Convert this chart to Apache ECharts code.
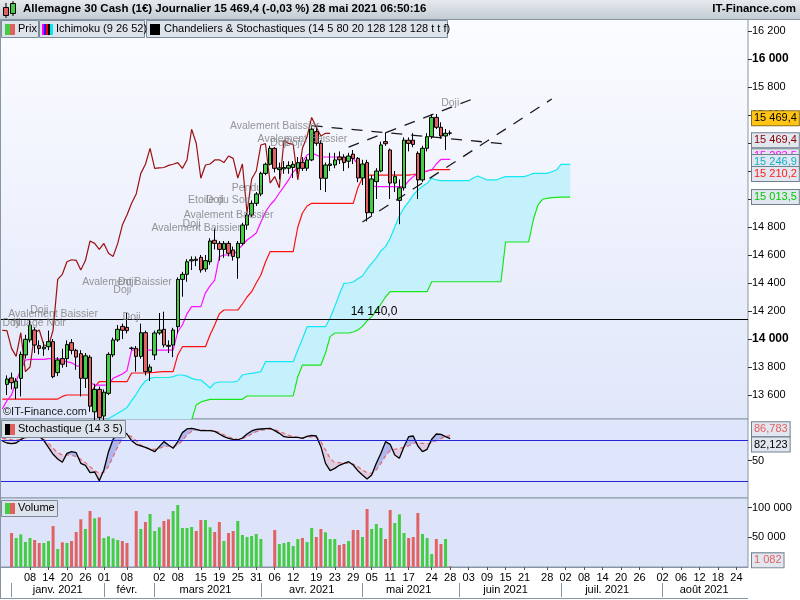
<!DOCTYPE html>
<html>
<head>
<meta charset="utf-8">
<script src="https://cdn.jsdelivr.net/npm/echarts@6.0.0/dist/echarts.min.js"></script>
<style>
html,body{margin:0;padding:0;background:#ffffff;}
#chart{width:800px;height:600px;}
</style>
</head>
<body>
<div id="chart"></div>
<script>
// ================= DATA =================
const slotCount = 162; // trading-day slots: 0 .. 161
const dayTickSlots  = [6,10,14,18,22,27,34,38,43,47,51,55,59,63,68,72,76,80,84,88,93,97,101,105,109,113,118,122,126,130,134,138,143,147,151,155,159];
const dayTickLabels = ['08','14','20','26','01','08','02','08','15','19','25','31','06','12','19','23','29','05','11','17','24','28','03','09','15','21','28','02','08','14','20','26','02','06','12','18','24'];
const monthSepSlots   = [2,22,33,56,78,99,121,143];
const monthLabelSlots = [12,27,44,67,88,109,131,152];
const monthLabels     = ['janv. 2021','févr.','mars 2021','avr. 2021','mai 2021','juin 2021','juil. 2021','août 2021'];
const priceTicks = [13600,13800,14000,14200,14400,14600,14800,15000,15200,15400,15600,15800,16000,16200];
const stochTicks = [50];
const volumeTicks = [50000,100000];

const candleOpen = [null,13676,13722,13650,13719,13886,13993,14064,13952,13930,
13945,13981,13760,13860,13860,13974,13919,13895,13719,13870,
13480,13640,13450,13612,13886,13993,14090,14083,13935,13933,
13876,14045,13767,13886,14043,14069,13955,13957,14088,14426,
14462,14558,14570,14583,14500,14552,14705,14683,14640,14683,
14636,14580,14683,14814,14886,14969,15036,15183,15248,15362,
15210,15215,15220,15225,15219,15262,15220,15279,15481,15398,
15148,15240,15243,15300,15300,15270,15320,15290,15150,15260,
14902,15124,15200,15410,15350,15114,14990,15080,15420,15420,
15326,15136,15362,15445,15583,15512,15450,15472];
const candleClose = [null,13714,13688,13700,13890,13998,14100,13957,13933,13942,
13981,13731,13850,13820,13960,13919,13871,13719,13880,13520,
13640,13440,13620,13890,13993,14069,14062,14060,13933,13876,
14045,13767,13800,14043,14064,13957,13948,14064,14426,14462,
14552,14566,14562,14493,14560,14700,14683,14640,14683,14612,
14590,14683,14814,14886,14969,15036,15183,15248,15362,15219,
15222,15225,15240,15248,15260,15219,15279,15498,15398,15148,
15243,15250,15279,15280,15260,15307,15290,15150,15250,14902,
15143,15200,15386,15395,15114,15160,15080,15420,15397,15390,
15136,15362,15445,15583,15512,15450,15469,15469.4];
const candleLow = [null,13600,13640,13570,13590,13860,13975,13900,13890,13880,
13920,13720,13735,13795,13800,13890,13780,13590,13650,13480,
13310,13390,13400,13600,13870,13980,14000,14040,13920,13767,
13860,13740,13700,13850,14030,13940,13900,13870,14040,14302,
14409,14493,14520,14474,14480,14530,14640,14560,14580,14590,
14560,14430,14670,14780,14870,14950,15020,15170,15240,15190,
15140,15180,15180,15150,15180,15200,15200,15270,15380,15064,
15050,15200,15220,15250,15200,15220,15250,15120,15100,14840,
14880,15000,15190,15380,15000,15050,14820,15060,15340,15370,
15000,15120,15340,15430,15500,15430,15350,15455];
const candleHigh = [null,13740,13760,13720,13910,14030,14140,14085,13990,13980,
14060,14000,13870,13930,13990,14000,13930,13920,13900,13885,
13680,13660,13640,13905,14010,14100,14110,14186,13945,13950,
14110,14060,13820,14060,14186,14195,13990,14080,14440,14480,
14570,14590,14590,14600,14600,14720,14790,14700,14700,14700,
14660,14700,14830,14900,14990,15050,15195,15260,15380,15370,
15260,15270,15270,15270,15300,15300,15300,15520,15507,15420,
15260,15330,15330,15340,15320,15330,15350,15300,15280,15280,
15170,15220,15410,15476,15360,15200,15140,15440,15440,15470,
15340,15380,15470,15607,15607,15548,15500,15490];

const volume = [null,null,57300,48800,55000,42100,48800,45500,40400,40400,
43800,69000,30300,41600,40400,43800,58900,80300,64000,94300,
82000,83700,48800,51700,48200,45500,43800,40400,null,94300,
64000,75800,89300,60600,66900,77500,80300,94300,104400,65700,
65700,67400,60600,79100,79100,66900,58900,75800,43800,57300,
60600,77500,53900,50500,52200,55600,47200,null,null,62300,
38700,40400,42100,35400,47200,48800,42100,65700,50500,64000,
58400,47200,47200,37000,38700,43800,62300,62300,50500,97700,
64000,72400,65700,47200,96000,74100,88700,57300,48800,50500,
91000,55600,48800,21900,47200,38700,47200,1082];

const tenkan = [13500,13560,13600,13700,13780,13850,13855,13855,13855,13855,
13860,13860,13860,13850,13838,13830,13810,13802,13760,13690,
13671,13671,13671,13671,13720,13735,13750,13774,13921,13921,
13921,13921,13921,13921,13921,13921,13921,13921,14052,14100,
14180,14231,14231,14231,14330,14380,14421,14588,14600,14600,
14600,14636,14671,14707,14731,14757,14836,14907,14957,14993,
15043,15088,15136,15195,15221,15264,15314,15329,15314,15300,
15300,15300,15300,15300,15295,15290,15290,15250,15207,15120,
15093,15088,15088,15088,15088,15088,15088,15088,15130,15160,
15180,15190,15200,15207,15250,15283.5,15283.5,15283.5];
const kijun = [13571,13571,13571,13571,13571,13571,13571,13571,13571,13571,
13571,13571,13571,13590,13600,13600,13600,13600,13600,13600,
13660,13695,13695,13695,13695,13695,13695,13695,13757,13757,
13757,13757,13760,13762,13765,13767,13767,13767,13886,13945,
13945,13945,13945,13945,13945,14030,14100,14180,14207,14207,
14207,14207,14250,14300,14338,14400,14457,14550,14624,14624,
14624,14624,14624,14624,14800,14900,14950,14969,14969,14969,
14969,14969,14969,14969,14969,14969,14969,15080,15150,15171,
15171,15171,15171,15171,15171,15171,15171,15171,15171,15175,
15180,15190,15200,15210.2,15210.2,15210.2,15210.2,15210.2];
const senkouA = [13300,13300,13300,13300,13300,13300,13300,13300,13300,13300,
13300,13300,13300,13300,13300,13300,13300,13300,13300,13300,
13300,13300,13400,13430,13450,13469,13490,13510,13560,13605,
13660,13700,13719,13725,13725,13725,13725,13731,13743,13743,
13735,13719,13710,13707,13680,13650,13686,13693,13693,13693,
13693,13700,13743,13750,13755,13760,13767,13838,13838,13838,
13838,13838,13838,13838,13921,14000,14088,14088,14088,14088,
14088,14150,14231,14320,14398,14400,14407,14430,14450,14500,
14540,14580,14630,14660,14720,14800,14880,14936,14980,15030,
15064,15090,15112,15148,15136,15131,15131,15131,15131,15131,
15131,15131,15150,15164,15150,15136,15136,15136,15150,15160,
15160,15160,15160,15160,15170,15183,15183,15183,15183,15195,
15207,15246.9,15246.9,15246.9];
const senkouB = [13200,13200,13200,13200,13200,13200,13200,13200,13200,13200,
13200,13200,13200,13200,13200,13200,13200,13200,13200,13200,
13200,13200,13200,13200,13200,13200,13200,13200,13200,13200,
13200,13200,13200,13200,13200,13200,13200,13200,13200,13200,
13300,13421,13529,13550,13560,13569,13569,13569,13569,13569,
13569,13569,13569,13593,13593,13593,13593,13593,13593,13593,
13593,13593,13593,13593,13731,13814,13814,13814,13814,13814,
13900,14017,14043,14043,14043,14043,14050,14064,14090,14130,
14160,14200,14250,14300,14338,14338,14338,14338,14338,14338,
14338,14338,14338,14409,14409,14409,14409,14409,14409,14409,
14409,14409,14409,14409,14409,14409,14409,14409,14409,14693,
14693,14693,14693,14693,14693,14850,14957,14998,15005,15010,
15012,15013.5,15013.5,15013.5];
const chikouShift = 26;

const stochK = [78.5,75.6,74.7,75.6,80.5,84.8,86.8,87.3,85.8,79,
69.3,59.2,52.4,47.6,60.6,63,61.6,46.1,43.2,32.5,
33.5,20.9,36.4,63,81,90.7,93.6,88.7,79,73.7,
71.3,69.3,66.4,63,70.3,77.6,72.7,67.9,77.6,90.7,
96,97,95.5,93.6,93.6,93.6,92.6,88.7,84.8,82.4,
81,80,82.9,88.7,93.1,95.5,96,96.5,97,93.6,
89.7,84.8,83.9,83.9,83.9,82.4,85.3,86.8,85.8,70.3,
46.1,35.4,38.8,43.2,46.1,48.5,43.7,35.4,29.1,23.3,
29.1,46.1,60.6,77.6,73.7,58.2,53.4,70.3,84.8,85.8,
71.3,63,66.4,81,88.7,88.2,84.8,82.123];
const stochD = [82.4,81.5,80.5,80,81,82.9,84.8,85.8,84.8,81,
75.2,67.9,61.6,58.2,58.2,57.7,55.8,51.9,47.1,41.3,
35.4,31.6,33,41.3,55.8,70.3,82.4,87.3,84.8,79,
72.7,69.3,66.9,66.4,67.9,70.3,71.3,70.3,72.7,79,
87.3,92.6,94.5,94.5,94.5,94,93.1,91.1,87.7,84.8,
81.9,81,81.9,84.8,88.7,92.1,94,95,95.5,95,
92.6,89.7,86.8,84.8,83.9,83.4,83.9,84.8,83.9,77.6,
65.5,53.4,47.1,47.1,46.1,46.1,45.1,41.3,36.4,32.5,
31.6,36.4,46.1,56.8,64.5,66.4,67.9,69.3,71.3,75.2,
76.1,75.2,74.2,76.1,79,81.9,84.8,86.783];
const stochLevels = [80, 20];

const supportLevel = 14140;
const trendLines = [
  [[67, 15524], [109, 15393]],
  [[75, 15371], [102, 15716]],
  [[78, 14836], [119, 15714]]
];
const patternLabels = [
  [8, 14207, 'Doji'], [11, 14179, 'Avalement Baissier'], [2, 14114, 'Doji'], [8, 14114, 'Nuage Noir'],
  [28, 14157, 'Doji'], [27, 14407, 'Avalement Baissier'], [27, 14407, 'Doji'], [26, 14350, 'Doji'],
  [59, 15524, 'Avalement Baissier'], [65, 15429, 'Avalement Baissier'], [60, 15400, 'Doji'], [63, 15400, 'Doji'],
  [53, 15079, 'Pendu'], [47, 14993, 'Etoile du Soir'], [46, 14993, 'Doji'], [49, 14886, 'Avalement Baissier'],
  [41, 14821, 'Doji'], [42, 14793, 'Avalement Baissier'], [97, 15683, 'Doji']
];
const lastPrice = 15469.4;
const titleText = 'Allemagne 30 Cash (1€) Journalier 15 469,4 (-0,03 %) 28 mai 2021 06:50:16';

// ================= HELPERS =================
const FONT = '"Liberation Sans", Arial, sans-serif';
const UP = '#44cc44', DN = '#e06262';
function fmtNum(v, dec) {
  const s = Number(v).toFixed(dec);
  let parts = s.split('.');
  let ip = parts[0].replace(/\B(?=(\d{3})+(?!\d))/g, ' ');
  return parts[1] ? ip + ',' + parts[1] : ip;
}
const cats = [];
for (let i = 0; i < slotCount; i++) cats.push(String(i));
const dayMap = {}; dayTickSlots.forEach((s, k) => dayMap[s] = dayTickLabels[k]);
const monthMap = {}; monthLabelSlots.forEach((s, k) => monthMap[s] = monthLabels[k]);
const sepSet = new Set(monthSepSlots);

const candleData = candleOpen.map((o, i) => o == null ? '-' : [o, candleClose[i], candleLow[i], candleHigh[i]]);
const volData = volume.map((v, i) => v == null ? '-' : { value: v, itemStyle: { color: candleClose[i] >= candleOpen[i] ? UP : DN } });
const chikouData = [];
for (let j = 0; j + chikouShift < candleClose.length; j++) chikouData.push([j, candleClose[j + chikouShift]]);
const cloudSpan = senkouA.map((a, i) => a - senkouB[i]);
const senkouALine = senkouA.map((v, i) => i < 21 ? null : v);
const senkouBLine = senkouB.map((v, i) => i < 40 ? null : v);

function badge(value, text, color, bg, border, dy) {
  return {
    yAxis: value,
    lineStyle: { color: 'rgba(0,0,0,0)', width: 0 },
    label: {
      show: true, position: 'end', formatter: text, color: color, backgroundColor: bg,
      borderColor: border, borderWidth: 1, padding: [2, 2, 1, 2], fontSize: 11, fontFamily: FONT,
      distance: 4, offset: [0, dy], opacity: 1
    }
  };
}
// short coloured tick crossing the price axis at a value
function axisTickMark(value, color) {
  return [
    { coord: [slotCount - 1, value], lineStyle: { color: color, width: 1, type: 'solid', opacity: 1 }, label: { show: false } },
    { coord: [slotCount - 1, value] }
  ];
}

function stochFill(params, api) {
  const i = api.value(0);
  const k0 = stochK[i], k1 = stochK[i + 1], d0 = stochD[i], d1 = stochD[i + 1];
  const pk0 = api.coord([i, k0]), pk1 = api.coord([i + 1, k1]);
  const pd0 = api.coord([i, d0]), pd1 = api.coord([i + 1, d1]);
  const s0 = k0 - d0, s1 = k1 - d1;
  const upC = 'rgba(95,105,215,0.38)', dnC = 'rgba(225,150,175,0.32)';
  const ch = [];
  if (s0 * s1 >= 0) {
    ch.push({ type: 'polygon', shape: { points: [pk0, pk1, pd1, pd0] }, style: { fill: (s0 + s1) >= 0 ? upC : dnC } });
  } else {
    const t = s0 / (s0 - s1);
    const cp = [pk0[0] + t * (pk1[0] - pk0[0]), pk0[1] + t * (pk1[1] - pk0[1])];
    ch.push({ type: 'polygon', shape: { points: [pk0, cp, pd0] }, style: { fill: s0 > 0 ? upC : dnC } });
    ch.push({ type: 'polygon', shape: { points: [cp, pk1, pd1] }, style: { fill: s1 > 0 ? upC : dnC } });
  }
  return { type: 'group', children: ch };
}

// ================= CHART =================
const chart = echarts.init(document.getElementById('chart'), null, { renderer: 'canvas' });
const G = echarts.graphic.LinearGradient;
const borderCol = '#8796a5';
const badgeBg = '#e2e7ef', badgeBorder = '#71808f';

const gridCommon = { left: -2, right: 52, show: true, borderColor: borderCol, borderWidth: 1 };
const option = {
  animation: false,
  backgroundColor: '#ffffff',
  textStyle: { fontFamily: FONT },
  grid: [
    Object.assign({ top: 19, height: 400, backgroundColor: new G(0, 0, 0, 1, [{ offset: 0, color: '#fbfcff' }, { offset: 1, color: '#e1e7fa' }]) }, gridCommon),
    Object.assign({ top: 419, height: 79, backgroundColor: '#dfe6fb' }, gridCommon),
    Object.assign({ top: 498, height: 69, backgroundColor: '#dde4fa' }, gridCommon)
  ],
  xAxis: [
    { type: 'category', gridIndex: 0, data: cats, boundaryGap: true, show: false },
    { type: 'category', gridIndex: 1, data: cats, boundaryGap: true, show: false },
    {
      type: 'category', gridIndex: 2, data: cats, boundaryGap: true,
      axisLine: { show: true, lineStyle: { color: borderCol } },
      axisTick: { show: true, alignWithLabel: true, length: 3, interval: (i) => dayMap[i] !== undefined, lineStyle: { color: '#555' } },
      axisLabel: { show: true, interval: (i) => dayMap[i] !== undefined, formatter: (v, i) => dayMap[i] || '', color: '#000', fontSize: 11, margin: 5 },
      splitLine: { show: false }
    },
    {
      type: 'category', gridIndex: 2, data: cats, boundaryGap: true, position: 'bottom', offset: 16,
      axisLine: { show: false },
      axisTick: { show: true, alignWithLabel: true, length: 14, interval: (i) => sepSet.has(i), lineStyle: { color: borderCol } },
      axisLabel: { show: true, interval: (i) => monthMap[i] !== undefined, formatter: (v, i) => monthMap[i] || '', color: '#000', fontSize: 11, margin: 1 },
      splitLine: { show: false }
    }
  ],
  yAxis: [
    {
      type: 'value', gridIndex: 0, position: 'right', min: 13428.6, max: 16285.7, scale: true,
      splitLine: { show: false }, axisLine: { show: false },
      axisTick: { show: true, length: 4, customValues: priceTicks, lineStyle: { color: '#333' } },
      axisLabel: {
        show: true, customValues: priceTicks, margin: 4, fontSize: 11, color: '#000',
        formatter: (v) => v % 1000 === 0 ? '{b|' + fmtNum(v, 0) + '}' : fmtNum(v, 0),
        rich: { b: { fontWeight: 'bold', fontSize: 12, color: '#000', fontFamily: FONT } }
      }
    },
    {
      type: 'value', gridIndex: 1, position: 'right', min: -4.3, max: 110.5,
      splitLine: { show: false }, axisLine: { show: false },
      axisTick: { show: true, length: 4, customValues: stochTicks, lineStyle: { color: '#333' } },
      axisLabel: { show: true, customValues: stochTicks, margin: 4, fontSize: 11, color: '#000' }
    },
    {
      type: 'value', gridIndex: 2, position: 'right', min: 0, max: 116200,
      splitLine: { show: false }, axisLine: { show: false },
      axisTick: { show: true, length: 4, customValues: volumeTicks, lineStyle: { color: '#333' } },
      axisLabel: { show: true, customValues: volumeTicks, margin: 4, fontSize: 11, color: '#000', formatter: (v) => fmtNum(v, 0) }
    }
  ],
  series: [
    // Ichimoku cloud fill (between Senkou B and Senkou A)
    { type: 'line', name: 'cloudBase', xAxisIndex: 0, yAxisIndex: 0, data: senkouB, stack: 'cloud', symbol: 'none', silent: true, lineStyle: { opacity: 0, width: 0 }, z: 1 },
    { type: 'line', name: 'cloudSpan', xAxisIndex: 0, yAxisIndex: 0, data: cloudSpan, stack: 'cloud', symbol: 'none', silent: true, lineStyle: { opacity: 0, width: 0 }, areaStyle: { color: '#c4f1fb', opacity: 1 }, z: 1 },
    { type: 'line', name: 'Senkou A', xAxisIndex: 0, yAxisIndex: 0, data: senkouALine, symbol: 'none', lineStyle: { color: '#14e8f4', width: 1.2 }, z: 2 },
    { type: 'line', name: 'Senkou B', xAxisIndex: 0, yAxisIndex: 0, data: senkouBLine, symbol: 'none', lineStyle: { color: '#18e618', width: 1.2 }, z: 2 },
    { type: 'line', name: 'Kijun', xAxisIndex: 0, yAxisIndex: 0, data: kijun, symbol: 'none', lineStyle: { color: '#ff1010', width: 1.2 }, z: 3 },
    { type: 'line', name: 'Tenkan', xAxisIndex: 0, yAxisIndex: 0, data: tenkan, symbol: 'none', lineStyle: { color: '#ff10ff', width: 1.2 }, z: 3 },
    { type: 'line', name: 'Chikou', xAxisIndex: 0, yAxisIndex: 0, data: chikouData, symbol: 'none', lineStyle: { color: '#9a1010', width: 1.2 }, z: 3 },
    {
      type: 'candlestick', name: 'Prix', xAxisIndex: 0, yAxisIndex: 0, data: candleData, barWidth: 4,
      itemStyle: { color: UP, color0: DN, borderColor: '#000', borderColor0: '#000', borderWidth: 1 },
      z: 5,
      markLine: {
        silent: true, symbol: ['none', 'none'], animation: false,
        data: [
          { yAxis: supportLevel, lineStyle: { color: '#000', width: 1, type: 'solid' },
            label: { show: true, position: 'insideMiddleTop', formatter: fmtNum(supportLevel, 1), color: '#000', fontSize: 12, fontFamily: FONT, distance: 2 } }
        ]
      }
    },
    // price badges on the right axis (separate series so they sit on top of the axis labels)
    {
      type: 'line', name: 'badges', xAxisIndex: 0, yAxisIndex: 0, data: [], symbol: 'none', silent: true, z: 20,
      markLine: {
        silent: true, symbol: ['none', 'none'], animation: false,
        data: [
          badge(senkouB[senkouB.length - 1], fmtNum(senkouB[senkouB.length - 1], 1), '#00c800', badgeBg, badgeBorder, 0),
          badge(tenkan[tenkan.length - 1], fmtNum(tenkan[tenkan.length - 1], 1), '#ff00ff', badgeBg, badgeBorder, -3),
          badge(senkouA[senkouA.length - 1], fmtNum(senkouA[senkouA.length - 1], 1), '#10b0c4', badgeBg, badgeBorder, -2.5),
          badge(kijun[kijun.length - 1], fmtNum(kijun[kijun.length - 1], 1), '#ff1a1a', badgeBg, badgeBorder, 4.5),
          badge(candleClose[candleClose.length - 1], fmtNum(candleClose[candleClose.length - 1], 1), '#8a0000', badgeBg, badgeBorder, 7),
          badge(lastPrice, fmtNum(lastPrice, 1), '#000000', '#ffc414', '#8a7020', -15)
        ]
      }
    },
    // trend lines
    ...trendLines.map((tl) => ({ type: 'line', xAxisIndex: 0, yAxisIndex: 0, data: tl, symbol: 'none', silent: true, lineStyle: { color: '#1a1a1a', width: 1.3, type: [11, 9] }, z: 6 })),
    // candle pattern labels
    {
      type: 'scatter', xAxisIndex: 0, yAxisIndex: 0, data: patternLabels, symbolSize: 0, silent: true, z: 7,
      label: { show: true, position: 'inside', formatter: (p) => p.value[2], color: '#7c7c7c', fontSize: 10.5, fontFamily: FONT }
    },
    // stochastic
    { type: 'custom', xAxisIndex: 1, yAxisIndex: 1, data: stochK.slice(0, -1).map((_, i) => [i]), renderItem: stochFill, silent: true, z: 2 },
    {
      type: 'line', name: '%K', xAxisIndex: 1, yAxisIndex: 1, data: stochK, symbol: 'none', lineStyle: { color: '#000', width: 1.3 }, z: 4,
      markLine: {
        silent: true, symbol: ['none', 'none'],
        data: [
          { yAxis: stochLevels[0], lineStyle: { color: '#2323d8', width: 1.2, type: 'solid' }, label: { show: false } },
          { yAxis: stochLevels[1], lineStyle: { color: '#2323d8', width: 1.2, type: 'solid' }, label: { show: false } }
        ]
      }
    },
    { type: 'line', name: '%D', xAxisIndex: 1, yAxisIndex: 1, data: stochD, symbol: 'none', lineStyle: { color: '#e46a6a', width: 1.2, type: [4, 3] }, z: 3 },
    {
      type: 'line', name: 'stochBadges', xAxisIndex: 1, yAxisIndex: 1, data: [], symbol: 'none', silent: true, z: 20,
      markLine: {
        silent: true, symbol: ['none', 'none'],
        data: [
          badge(stochD[stochD.length - 1], fmtNum(stochD[stochD.length - 1], 3), '#e06060', badgeBg, badgeBorder, -6),
          badge(stochK[stochK.length - 1], fmtNum(stochK[stochK.length - 1], 3), '#000000', badgeBg, badgeBorder, 6)
        ]
      }
    },
    // volume
    { type: 'bar', name: 'Volume', xAxisIndex: 2, yAxisIndex: 2, data: volData, barWidth: 3, z: 3 },
    {
      type: 'line', name: 'volBadge', xAxisIndex: 2, yAxisIndex: 2, data: [], symbol: 'none', silent: true, z: 20,
      markLine: {
        silent: true, symbol: ['none', 'none'],
        data: [badge(volume[volume.length - 1], fmtNum(volume[volume.length - 1], 0), '#e06060', badgeBg, badgeBorder, -6)]
      }
    }
  ],
  graphic: [
    { type: 'rect', shape: { x: 0, y: 0, width: 800, height: 19 }, style: { fill: new G(0, 0, 0, 1, [{ offset: 0, color: '#e6eaee' }, { offset: 1, color: '#c3ccd4' }]) }, z: 100 },
    { type: 'line', shape: { x1: 0, y1: 19.5, x2: 800, y2: 19.5 }, style: { stroke: '#8796a5', lineWidth: 1 }, z: 101 },
    { type: 'line', shape: { x1: 6, y1: 3, x2: 6, y2: 18 }, style: { stroke: '#000', lineWidth: 1 }, z: 101 },
    { type: 'rect', shape: { x: 3.5, y: 7.5, width: 5, height: 8 }, style: { fill: '#e06060', stroke: '#000', lineWidth: 1 }, z: 102 },
    { type: 'line', shape: { x1: 13, y1: 1, x2: 13, y2: 16 }, style: { stroke: '#000', lineWidth: 1 }, z: 101 },
    { type: 'rect', shape: { x: 10.5, y: 3.5, width: 5, height: 10 }, style: { fill: '#44cc44', stroke: '#000', lineWidth: 1 }, z: 102 },
    { type: 'text', left: 23, top: 3, style: { text: titleText, font: 'bold 11.5px ' + FONT, fill: '#000' }, z: 103 },
    { type: 'text', right: 4, top: 3, style: { text: 'IT-Finance.com', font: 'bold 11.5px ' + FONT, fill: '#000' }, z: 103 },

    // legend row
    { type: 'rect', shape: { x: 1.5, y: 20.5, width: 37, height: 17 }, style: { fill: '#dde3ea', stroke: '#7d8b99', lineWidth: 1 }, z: 100 },
    { type: 'rect', shape: { x: 5, y: 24, width: 5, height: 11 }, style: { fill: '#44cc44' }, z: 101 },
    { type: 'rect', shape: { x: 10, y: 24, width: 5, height: 11 }, style: { fill: '#e06060' }, z: 101 },
    { type: 'text', left: 18, top: 23, style: { text: 'Prix', font: '11px ' + FONT, fill: '#000' }, z: 102 },

    { type: 'rect', shape: { x: 39.5, y: 20.5, width: 105, height: 17 }, style: { fill: '#dde3ea', stroke: '#7d8b99', lineWidth: 1 }, z: 100 },
    { type: 'rect', shape: { x: 42, y: 24, width: 2, height: 11 }, style: { fill: '#ff00ff' }, z: 101 },
    { type: 'rect', shape: { x: 44, y: 24, width: 2, height: 11 }, style: { fill: '#2020ff' }, z: 101 },
    { type: 'rect', shape: { x: 46, y: 24, width: 2, height: 11 }, style: { fill: '#ff0000' }, z: 101 },
    { type: 'rect', shape: { x: 48, y: 24, width: 2, height: 11 }, style: { fill: '#000000' }, z: 101 },
    { type: 'rect', shape: { x: 50, y: 24, width: 3, height: 11 }, style: { fill: '#00e8f0' }, z: 101 },
    { type: 'text', left: 56, top: 23, style: { text: 'Ichimoku (9 26 52)', font: '11px ' + FONT, fill: '#000' }, z: 102 },

    { type: 'rect', shape: { x: 146.5, y: 20.5, width: 301, height: 17 }, style: { fill: '#dde3ea', stroke: '#7d8b99', lineWidth: 1 }, z: 100 },
    { type: 'rect', shape: { x: 150, y: 24, width: 10, height: 11 }, style: { fill: '#000' }, z: 101 },
    { type: 'text', left: 164, top: 23, style: { text: 'Chandeliers & Stochastiques (14 5 80 20 128 128 128 t t f)', font: '11px ' + FONT, fill: '#000' }, z: 102 },

    // stochastic legend
    { type: 'rect', shape: { x: 1.5, y: 420.5, width: 124, height: 17 }, style: { fill: '#dde3ea', stroke: '#7d8b99', lineWidth: 1 }, z: 100 },
    { type: 'rect', shape: { x: 5, y: 424, width: 5, height: 11 }, style: { fill: '#000' }, z: 101 },
    { type: 'rect', shape: { x: 10, y: 424, width: 5, height: 11 }, style: { fill: '#e06060' }, z: 101 },
    { type: 'text', left: 18, top: 423, style: { text: 'Stochastique (14 3 5)', font: '11px ' + FONT, fill: '#000' }, z: 102 },

    // volume legend
    { type: 'rect', shape: { x: 1.5, y: 500.5, width: 56, height: 16 }, style: { fill: '#dde3ea', stroke: '#7d8b99', lineWidth: 1 }, z: 100 },
    { type: 'rect', shape: { x: 5, y: 503, width: 5, height: 11 }, style: { fill: '#44cc44' }, z: 101 },
    { type: 'rect', shape: { x: 10, y: 503, width: 5, height: 11 }, style: { fill: '#e06060' }, z: 101 },
    { type: 'text', left: 18, top: 502, style: { text: 'Volume', font: '11px ' + FONT, fill: '#000' }, z: 102 },

    // watermark
    { type: 'text', left: 3, top: 406, style: { text: '©IT-Finance.com', font: '11px ' + FONT, fill: '#1a1a1a' }, z: 102 },

    // frame
    { type: 'line', shape: { x1: 0.5, y1: 19, x2: 0.5, y2: 598 }, style: { stroke: borderCol, lineWidth: 1 }, z: 100 },
    { type: 'line', shape: { x1: 0, y1: 598.5, x2: 748, y2: 598.5 }, style: { stroke: borderCol, lineWidth: 1 }, z: 100 }
  ]
};
chart.setOption(option);
</script>
</body>
</html>
